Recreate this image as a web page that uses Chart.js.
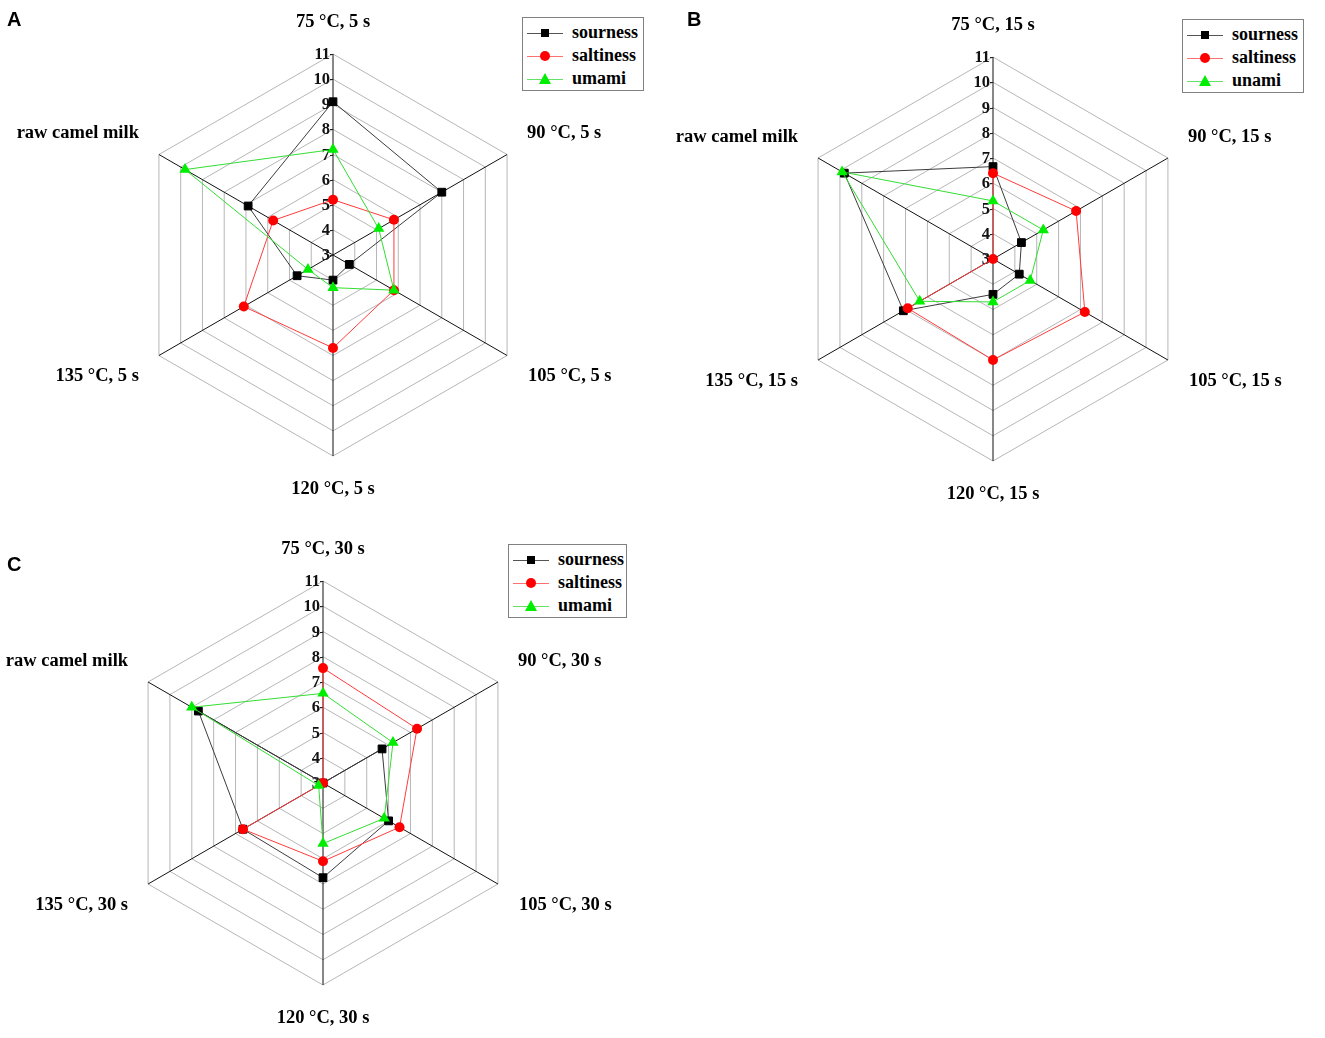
<!DOCTYPE html>
<html>
<head>
<meta charset="utf-8">
<script src="https://cdn.jsdelivr.net/npm/chart.js@4.4.1/dist/chart.umd.min.js"></script>
<style>
  body { margin: 0; background: #fff; }
  #page { position: relative; width: 1325px; height: 1038px; overflow: hidden; background: #fff; }
  canvas { position: absolute; }
  .letter { position: absolute; font: bold 20px "Liberation Sans", Arial, sans-serif; line-height: 20px; color: #000; }
  .legend { position: absolute; border: 1px solid #808080; background: #fff; padding: 3px 0 0 4px; box-sizing: border-box; }
  .legend .row { height: 23px; display: flex; align-items: center; font: bold 18px "Liberation Serif", "Times New Roman", serif; color: #000; }
  .legend .sym { position: relative; width: 36px; height: 14px; margin-right: 9px; }
  .legend .ln { position: absolute; left: 0; right: 0; top: 7px; height: 1px; }
  .legend .mk { position: absolute; }
</style>
</head>
<body>
<div id="page">
  <canvas id="chartA" width="660" height="520" style="left:0;top:0"></canvas>
  <canvas id="chartB" width="660" height="520" style="left:665px;top:0"></canvas>
  <canvas id="chartC" width="660" height="518" style="left:0;top:520px"></canvas>
  <div class="letter" style="left:7px;top:9px">A</div>
  <div class="letter" style="left:687px;top:9px">B</div>
  <div class="letter" style="left:7px;top:554px">C</div>
</div>
<script>
// axis names for each panel
var labelsA = ['75 °C, 5 s', '90 °C, 5 s', '105 °C, 5 s', '120 °C, 5 s', '135 °C, 5 s', 'raw camel milk'];
var labelsB = ['75 °C, 15 s', '90 °C, 15 s', '105 °C, 15 s', '120 °C, 15 s', '135 °C, 15 s', 'raw camel milk'];
var labelsC = ['75 °C, 30 s', '90 °C, 30 s', '105 °C, 30 s', '120 °C, 30 s', '135 °C, 30 s', 'raw camel milk'];

// series values
var sournessA = [9.1, 8.0, 3.75, 4.0, 4.65, 6.9];
var saltinessA = [5.2, 5.8, 5.8, 6.7, 7.1, 5.75];
var umamiA = [7.2, 5.1, 5.8, 4.3, 4.15, 9.8];

var sournessB = [6.66, 4.3, 4.2, 4.4, 7.1, 9.8];
var saltinessB = [6.4, 6.8, 7.2, 7.0, 6.9, 3.0];
var umamiB = [5.3, 5.3, 4.7, 4.7, 6.35, 9.9];

var sournessC = [3.0, 5.7, 6.0, 6.75, 6.66, 8.7];
var saltinessC = [7.55, 7.3, 6.5, 6.1, 6.66, 3.0];
var umamiC = [6.55, 6.2, 5.8, 5.4, 3.2, 9.0];

var tickValues = [3, 4, 5, 6, 7, 8, 9, 10, 11];
var seriesNames = ['sourness', 'saltiness', 'umami'];
var seriesNamesB = ['sourness', 'saltiness', 'unami'];

var serifFont = '"Liberation Serif", "Times New Roman", serif';

// draws tick numbers on the top axis and the axis names round the hexagon
var radarText = {
  id: 'radarText',
  beforeDatasetsDraw: function (chart) {
    var scale = chart.scales.r;
    var ctx = chart.ctx;
    var cx = scale.xCenter;
    var cy = scale.yCenter;
    ctx.save();

    ctx.font = 'bold 16.5px ' + serifFont;
    ctx.fillStyle = '#111';
    ctx.strokeStyle = '#222';
    ctx.lineWidth = 1;
    ctx.textAlign = 'right';
    ctx.textBaseline = 'middle';
    tickValues.forEach(function (v) {
      var y = Math.round(cy - scale.getDistanceFromCenterForValue(v)) + 0.5;
      ctx.fillText(String(v), cx - 3, y);
      ctx.beginPath();
      ctx.moveTo(cx - 3, y);
      ctx.lineTo(cx, y);
      ctx.stroke();
    });

    ctx.font = 'bold 18.5px ' + serifFont;
    ctx.fillStyle = '#000';
    chart.data.labels.forEach(function (label, i) {
      var p = scale.getPointPosition(i, scale.drawingArea);
      var x = p.x, y = p.y;
      if (i === 0) { ctx.textAlign = 'center'; y -= 32; }
      else if (i === 3) { ctx.textAlign = 'center'; y += 33; }
      else if (i === 1) { ctx.textAlign = 'left'; x += 20; y -= 21; }
      else if (i === 2) { ctx.textAlign = 'left'; x += 21; y += 21; }
      else if (i === 4) { ctx.textAlign = 'right'; x -= 20; y += 21; }
      else { ctx.textAlign = 'right'; x -= 20; y -= 21; }
      ctx.fillText(label, x, y);
    });
    ctx.restore();
  }
};

function makeChart(id, labels, sour, salt, uma, pad) {
  var ctx = document.getElementById(id).getContext('2d');
  return new Chart(ctx, {
    type: 'radar',
    data: {
      labels: labels,
      datasets: [{
        label: 'sourness',
        data: sour,
        borderColor: '#3c3c3c',
        borderWidth: 1,
        pointStyle: 'rect',
        pointRadius: 5.5,
        pointBackgroundColor: '#000',
        pointBorderColor: '#000',
        pointBorderWidth: 1,
        fill: false,
        order: 3
      }, {
        label: 'saltiness',
        data: salt,
        borderColor: '#ff3b3b',
        borderWidth: 1,
        pointStyle: 'circle',
        pointRadius: 5,
        pointBackgroundColor: '#ff0000',
        pointBorderColor: '#ff0000',
        pointBorderWidth: 0,
        fill: false,
        order: 2
      }, {
        label: 'umami',
        data: uma,
        borderColor: '#33dd33',
        borderWidth: 1,
        pointStyle: 'triangle',
        pointRadius: 6.5,
        pointBackgroundColor: '#00ee00',
        pointBorderColor: '#00ee00',
        pointBorderWidth: 0,
        fill: false,
        order: 1
      }]
    },
    options: {
      responsive: false,
      animation: false,
      layout: { padding: pad },
      elements: { line: { tension: 0 } },
      scales: {
        r: {
          min: 3,
          max: 11,
          ticks: { stepSize: 1, display: false },
          grid: { color: '#b6b6b6', lineWidth: 1 },
          angleLines: { color: '#111', lineWidth: 1 },
          pointLabels: { display: false }
        }
      },
      plugins: {
        legend: { display: false },
        tooltip: { enabled: false }
      }
    },
    plugins: [radarText]
  });
}

// legend box drawn as html, one per panel
function makeLegend(left, top, width, names) {
  var box = document.createElement('div');
  box.className = 'legend';
  box.style.left = left + 'px';
  box.style.top = top + 'px';
  box.style.width = width + 'px';
  box.style.height = '74px';
  var lineColors = ['#555', '#ff7070', '#66e066'];
  var markers = [
    'left:14px;top:3px;width:8px;height:8px;background:#000;',
    'left:13px;top:2px;width:10px;height:10px;border-radius:50%;background:#ff0000;',
    'left:12px;top:1px;width:0;height:0;border-left:6px solid transparent;border-right:6px solid transparent;border-bottom:11px solid #00ee00;'
  ];
  names.forEach(function (name, i) {
    var row = document.createElement('div');
    row.className = 'row';
    var sym = document.createElement('div');
    sym.className = 'sym';
    var ln = document.createElement('div');
    ln.className = 'ln';
    ln.style.background = lineColors[i];
    var mk = document.createElement('div');
    mk.className = 'mk';
    mk.style.cssText = markers[i];
    sym.appendChild(ln);
    sym.appendChild(mk);
    var txt = document.createElement('span');
    txt.textContent = name;
    row.appendChild(sym);
    row.appendChild(txt);
    box.appendChild(row);
  });
  document.getElementById('page').appendChild(box);
}

makeChart('chartA', labelsA, sournessA, saltinessA, umamiA, { left: 132, top: 54, right: 126, bottom: 64 });
makeChart('chartB', labelsB, sournessB, saltinessB, umamiB, { left: 126, top: 57, right: 130, bottom: 59 });
makeChart('chartC', labelsC, sournessC, saltinessC, umamiC, { left: 121, top: 61, right: 135, bottom: 53 });

makeLegend(522, 17, 122, seriesNames);
makeLegend(1182, 19, 122, seriesNamesB);
makeLegend(508, 544, 119, seriesNames);
</script>
</body>
</html>
